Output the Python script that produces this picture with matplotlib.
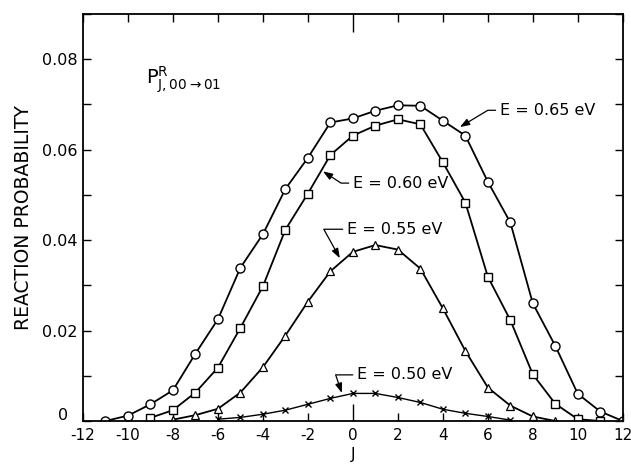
import numpy as np
import matplotlib
matplotlib.use("Agg")
import matplotlib.pyplot as plt
from matplotlib.ticker import MultipleLocator

# reaction probability P^R_J vs J, four collision energies
J_065 = list(range(-11, 13))
P_065 = [0.0, 0.0012, 0.0037, 0.0068, 0.0149, 0.0225, 0.0339, 0.0413, 0.0513, 0.0582,
         0.0660, 0.0669, 0.0686, 0.0698, 0.0697, 0.0664, 0.0631, 0.0529, 0.0439, 0.0260,
         0.0166, 0.0060, 0.0021, 0.0]

J_060 = list(range(-9, 12))
P_060 = [0.0007, 0.0024, 0.0063, 0.0118, 0.0206, 0.0298, 0.0423, 0.0503, 0.0588, 0.0631,
         0.0653, 0.0667, 0.0656, 0.0572, 0.0483, 0.0319, 0.0223, 0.0103, 0.0038, 0.0004, 0.0]

J_055 = list(range(-8, 10))
P_055 = [0.0003, 0.0013, 0.0027, 0.0063, 0.0119, 0.0189, 0.0264, 0.0331, 0.0374, 0.0389,
         0.0379, 0.0337, 0.0249, 0.0155, 0.0074, 0.0034, 0.0010, 0.0]

J_050 = list(range(-6, 8))
P_050 = [0.0004, 0.0008, 0.0015, 0.0024, 0.0037, 0.0050, 0.0061, 0.0061, 0.0052, 0.0041,
         0.0026, 0.0017, 0.0010, 0.0002]

x_ticks = list(range(-12, 13, 2))
y_ticks = [0.0, 0.02, 0.04, 0.06, 0.08]
y_ticklabels = ["", "0.02", "0.04", "0.06", "0.08"]

plt.rcParams['font.family'] = ['DejaVu Sans']
plt.rcParams['axes.unicode_minus'] = False
plt.rcParams['mathtext.default'] = 'regular'

fig = plt.figure(figsize=(6.31, 4.65), dpi=100)
ax = fig.add_axes([0.1315, 0.0946, 0.8555, 0.8754])

lw = 1.3
ax.plot(J_065, P_065, '-', color='black', lw=lw, marker='o', ms=6.5,
        mfc='white', mec='black', mew=1.0)
ax.plot(J_060, P_060, '-', color='black', lw=lw, marker='s', ms=6,
        mfc='white', mec='black', mew=1.0)
ax.plot(J_055, P_055, '-', color='black', lw=lw, marker='^', ms=5.5,
        mfc='white', mec='black', mew=0.9)
ax.plot(J_050, P_050, '-', color='black', lw=1.0, marker='x', ms=5,
        mec='black', mew=1.0)

# curve labels with leader arrows: (text, text pos, arrow tip, angleB)
labels = [
    ("E = 0.65 eV", (6.53, 0.0687), (4.76, 0.0650), 31),
    ("E = 0.60 eV", (0.0, 0.0526), (-1.33, 0.0552), -33),
    ("E = 0.55 eV", (-0.27, 0.0424), (-0.58, 0.0360), 119),
    ("E = 0.50 eV", (0.18, 0.0102), (-0.49, 0.0062), 109),
]
for txt, tpos, tip, angb in labels:
    ax.annotate(txt, xy=tip, xytext=tpos, ha='left', va='center', fontsize=11.5,
                arrowprops=dict(arrowstyle='-|>,head_length=0.5,head_width=0.18',
                                color='black', lw=0.9, shrinkA=1, shrinkB=0,
                                connectionstyle=f"angle,angleA=0,angleB={angb},rad=0"))

ax.text(-9.2, 0.0755, r'$P^{R}_{J,00\rightarrow01}$', fontsize=14, ha='left', va='center')

ax.set_xlim(-12, 12)
ax.set_ylim(0, 0.09)
ax.set_xticks(x_ticks)
ax.set_xticklabels([str(v) for v in x_ticks], fontsize=11)
ax.set_yticks(y_ticks)
ax.set_yticklabels(y_ticklabels, fontsize=11.5)
ax.yaxis.set_minor_locator(MultipleLocator(0.01))
ax.tick_params(which='both', direction='in', top=True, right=True, length=6, width=1.0)
ax.tick_params(axis='x', pad=5)
ax.tick_params(axis='y', pad=4)
# J = 0 tick drawn longer, as in the original
for t in ax.xaxis.get_major_ticks():
    if abs(t.get_loc()) < 1e-9:
        t.tick1line.set_markersize(12)
        t.tick2line.set_markersize(13)

# the "0" label sits a bit above the corner in the original
ax.annotate("0", xy=(0, 0), xycoords=('axes fraction', 'data'), xytext=(-14, 4),
            textcoords='offset points', ha='center', va='center', fontsize=11.5)

for s in ax.spines.values():
    s.set_linewidth(1.3)

ax.set_ylabel("REACTION PROBABILITY", fontsize=13.5, labelpad=6)
ax.set_xlabel("J", fontsize=11.5, labelpad=3)

fig.savefig("out.png", dpi=100)
